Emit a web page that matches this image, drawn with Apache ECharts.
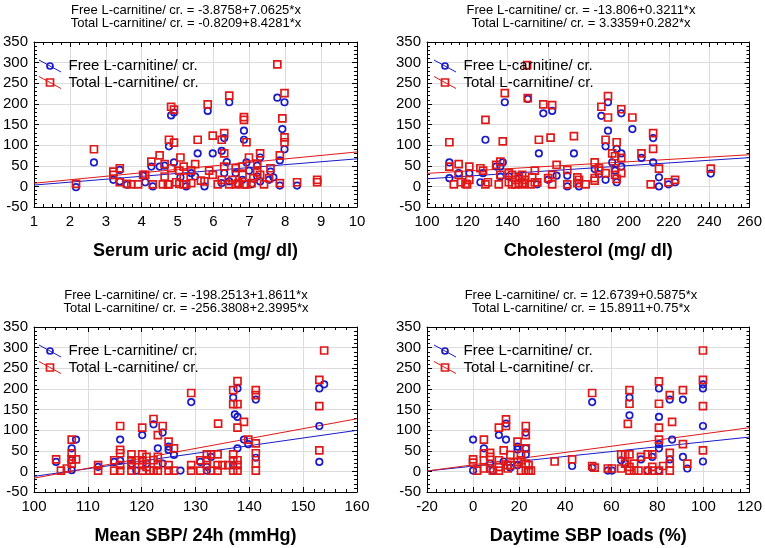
<!DOCTYPE html>
<html>
<head>
<meta charset="utf-8">
<script src="https://cdn.jsdelivr.net/npm/echarts@6/dist/echarts.min.js"></script>
<style>
html,body{margin:0;padding:0;background:#fff;}
#c{width:765px;height:548px;}
</style>
</head>
<body>
<div id="c"></div>
<script>
// ---------- DATA ----------
const xNames = ['Serum uric acid (mg/ dl)', 'Cholesterol (mg/ dl)', 'Mean SBP/ 24h (mmHg)', 'Daytime SBP loads (%)'];
const legendNames = ['Free L-carnitine/ cr.', 'Total L-carnitine/ cr.'];
const eqFree = ['Free L-carnitine/ cr. = -3.8758+7.0625*x', 'Free L-carnitine/ cr. = -13.806+0.3211*x',
                'Free L-carnitine/ cr. = -198.2513+1.8611*x', 'Free L-carnitine/ cr. = 12.6739+0.5875*x'];
const eqTotal = ['Total L-carnitine/ cr. = -0.8209+8.4281*x', 'Total L-carnitine/ cr. = 3.3359+0.282*x',
                 'Total L-carnitine/ cr. = -256.3808+2.3995*x', 'Total L-carnitine/ cr. = 15.8911+0.75*x'];
const yTicks = { min: -50, max: 350, interval: 50 };
const xTicks = [
  { min: 1, max: 10, interval: 1 },
  { min: 100, max: 260, interval: 20 },
  { min: 100, max: 160, interval: 10 },
  { min: -20, max: 120, interval: 20 }
];

// fitted lines: endpoints at the axis extents (from the printed equations)
const fitFree = [
  [[1, 3.19], [10, 66.75]],
  [[100, 18.30], [260, 69.68]],
  [[100, -12.14], [160, 99.53]],
  [[-20, 0.92], [120, 83.17]]
];
const fitTotal = [
  [[1, 7.61], [10, 83.46]],
  [[100, 31.54], [260, 76.65]],
  [[100, -16.43], [160, 127.54]],
  [[-20, 0.89], [120, 105.89]]
];

const uricFree = [[2.17,-2],[2.67,58],[3.21,16],[3.39,40],[3.39,12],[3.59,4],[4.04,26],[4.10,10],[4.27,48],[4.31,0],[4.50,48],[4.64,50],[4.76,97],[4.82,172],[4.90,179],[4.90,58],[5.08,22],[5.24,0],[5.38,32],[5.49,24],[5.56,80],[5.75,0],[5.84,183],[5.98,80],[6.23,86],[6.23,8],[6.30,117],[6.30,32],[6.37,59],[6.44,204],[6.44,12],[6.62,32],[6.69,5],[6.81,16],[6.85,135],[6.85,113],[6.92,58],[6.99,38],[7.06,5],[7.22,50],[7.22,24],[7.30,70],[7.30,12],[7.55,16],[7.59,36],[7.67,22],[7.78,215],[7.85,63],[7.85,2],[7.92,139],[7.98,204],[7.98,90],[8.33,2]];
const uricTotal = [[2.17,6],[2.67,90],[3.21,36],[3.21,28],[3.39,44],[3.39,10],[3.59,6],[3.71,5],[3.90,5],[4.04,28],[4.10,28],[4.27,60],[4.31,5],[4.50,75],[4.59,5],[4.64,54],[4.64,24],[4.73,5],[4.76,113],[4.76,5],[4.82,193],[4.82,44],[4.90,186],[4.90,106],[4.96,10],[5.05,6],[5.05,38],[5.08,70],[5.17,48],[5.17,22],[5.17,5],[5.24,5],[5.38,39],[5.38,8],[5.49,54],[5.56,113],[5.65,14],[5.75,12],[5.84,199],[5.88,38],[5.98,123],[5.98,28],[6.12,5],[6.23,113],[6.23,16],[6.30,129],[6.30,48],[6.30,80],[6.44,220],[6.44,5],[6.53,16],[6.62,44],[6.62,5],[6.69,8],[6.81,48],[6.81,28],[6.85,168],[6.85,161],[6.85,5],[6.92,107],[6.92,5],[6.99,70],[7.06,8],[7.11,20],[7.22,55],[7.22,34],[7.30,80],[7.30,28],[7.41,5],[7.55,20],[7.59,44],[7.78,296],[7.85,75],[7.85,8],[7.92,165],[7.98,226],[7.98,119],[7.98,107],[8.33,10],[8.89,16],[8.89,10]];

const cholFree = [[111.1,20],[111.1,58],[115.7,32],[121.0,32],[126.5,10],[127.8,32],[129.0,113],[134.3,48],[136.4,48],[136.4,24],[137.6,58],[138.6,204],[140.6,24],[145.6,20],[150.0,212],[154.7,5],[155.5,80],[157.7,177],[160.1,16],[162.1,183],[164.3,26],[169.6,26],[169.6,0],[172.9,80],[175.4,0],[183.2,42],[185.3,30],[186.5,171],[188.6,97],[188.6,16],[189.8,204],[189.8,135],[191.9,58],[193.3,38],[194.1,91],[194.1,10],[196.4,177],[196.4,80],[196.4,48],[201.9,139],[206.4,69],[212.2,117],[212.2,58],[215.1,22],[215.1,0],[219.8,5],[223.1,10],[240.8,31]];
const cholTotal = [[111.1,107],[111.1,48],[113.3,5],[115.7,54],[115.7,28],[116.9,10],[119.1,6],[119.9,5],[121.0,48],[121.0,16],[126.5,44],[127.8,38],[129.0,161],[129.0,5],[130.2,10],[134.3,52],[135.6,5],[136.4,60],[136.4,28],[137.6,109],[138.6,226],[140.6,32],[140.6,10],[142.2,28],[142.2,5],[143.9,16],[143.9,5],[145.6,8],[145.6,22],[147.2,5],[147.2,28],[148.5,16],[148.5,8],[149.7,294],[150.0,214],[151.4,5],[152.2,22],[153.5,38],[153.5,10],[154.7,10],[155.5,113],[157.7,199],[160.1,20],[161.3,118],[162.1,197],[162.1,28],[162.1,5],[164.3,52],[169.6,40],[169.6,5],[172.9,122],[174.6,22],[174.6,8],[175.4,16],[178.7,5],[183.2,58],[183.2,20],[183.2,14],[185.3,44],[185.3,38],[186.5,193],[188.6,113],[188.6,32],[189.8,219],[189.8,167],[191.9,80],[193.3,73],[193.3,44],[193.3,28],[194.1,107],[194.1,18],[196.4,187],[196.4,69],[196.4,32],[201.9,167],[206.4,80],[211.0,5],[212.2,129],[212.2,91],[215.1,43],[219.8,10],[223.1,16],[240.8,43]];

const sbpFree = [[104.1,23],[107.0,56],[107.0,27],[107.0,3],[107.8,77],[111.9,11],[114.9,23],[116.0,77],[116.0,26],[118.1,19],[119.0,2],[120.1,88],[120.9,19],[122.2,114],[123.0,56],[123.9,94],[123.9,19],[125.0,60],[125.0,52],[126.0,40],[127.2,2],[129.2,168],[130.9,23],[132.1,2],[132.1,11],[132.9,35],[137.0,179],[137.0,15],[137.3,138],[137.8,201],[137.8,132],[137.8,56],[139.0,77],[139.8,66],[141.2,174],[141.2,33],[153.0,201],[153.0,110],[153.0,23],[153.9,211]];
const sbpTotal = [[104.1,29],[105.0,2],[106.1,7],[107.0,77],[107.0,44],[107.0,29],[107.0,19],[107.8,29],[111.9,15],[111.9,2],[114.9,27],[114.9,2],[116.0,110],[116.0,52],[116.0,44],[116.0,15],[116.0,2],[118.1,41],[118.1,27],[118.1,15],[118.1,2],[119.0,27],[120.1,106],[120.1,41],[120.1,27],[120.1,15],[120.1,2],[120.9,35],[120.9,11],[121.5,2],[122.2,127],[122.2,27],[122.2,2],[123.0,88],[123.0,35],[123.0,15],[123.0,2],[123.9,110],[125.0,72],[125.0,15],[125.0,2],[126.0,56],[126.0,2],[129.2,190],[129.2,15],[129.2,2],[130.9,27],[130.9,2],[132.1,41],[132.1,27],[132.1,15],[132.9,41],[132.9,2],[134.1,41],[134.1,15],[134.1,2],[134.2,116],[135.0,15],[136.1,15],[137.0,197],[137.0,163],[137.0,41],[137.0,27],[137.0,2],[137.8,219],[137.8,163],[137.8,106],[137.8,27],[137.8,15],[137.8,2],[139.0,120],[139.8,77],[141.2,197],[141.2,185],[141.2,68],[141.2,44],[141.2,19],[141.2,2],[153.0,222],[153.0,158],[153.0,51],[153.9,293]];

const loadFree = [[0,77],[0,2],[4.7,56],[7.4,19],[8.6,2],[11.2,88],[13.3,24],[14.3,77],[14.3,116],[16.2,9],[19.3,15],[19.3,60],[19.3,53],[22.9,94],[22.9,56],[22.9,41],[43.0,13],[51.7,168],[51.7,9],[58.5,2],[60.3,2],[64.3,27],[66.0,19],[67.9,179],[67.9,136],[72.9,29],[75.8,2],[77.8,35],[80.7,201],[80.7,132],[80.7,66],[80.7,56],[80.7,2],[85.4,174],[85.4,29],[86.4,77],[91.1,174],[91.1,35],[93.0,7],[99.8,211],[99.8,201],[99.8,110],[99.8,24]];
const loadTotal = [[0,29],[0,21],[1.8,2],[4.7,77],[4.7,44],[4.7,27],[4.7,7],[7.4,45],[7.4,35],[7.4,7],[8.6,2],[11.2,106],[11.2,27],[11.2,11],[11.2,2],[13.3,51],[14.3,110],[14.3,126],[15.0,15],[15.0,7],[16.2,40],[16.2,15],[19.3,23],[19.3,72],[20.8,40],[20.8,27],[20.8,2],[22.9,110],[22.9,88],[22.9,56],[22.9,19],[22.9,2],[24.1,2],[24.1,15],[25.1,2],[35.4,24],[43.0,29],[51.7,190],[51.7,13],[52.8,9],[58.5,7],[60.3,7],[64.3,7],[64.3,41],[66.0,41],[66.0,19],[67.2,115],[67.9,197],[67.9,164],[67.9,41],[67.9,11],[67.9,2],[69.9,19],[69.9,2],[71.8,2],[72.9,35],[75.8,41],[75.8,2],[77.8,41],[77.8,11],[77.8,2],[80.7,218],[80.7,164],[80.7,106],[80.7,77],[80.7,2],[82.5,13],[85.4,185],[85.4,45],[85.4,19],[85.4,2],[86.4,120],[91.1,197],[91.1,66],[93.0,19],[99.8,293],[99.8,222],[99.8,158],[99.8,51]];

const freeSets = [uricFree, cholFree, sbpFree, loadFree];
const totalSets = [uricTotal, cholTotal, sbpTotal, loadTotal];

// ---------- LAYOUT / STYLE ----------
const FONT = '"Liberation Sans", Arial, Helvetica, sans-serif';
const BLUE = '#1a1ac8';
const RED = '#e01818';
const GRID_W = 325, GRID_H = 165;
const gridPos = [[32, 42], [427, 42], [32, 327], [427, 327]];
const xMinor = [4, 5, 5, 5];

const option = {
  backgroundColor: '#fff',
  animation: false,
  grid: [], xAxis: [], yAxis: [], series: [], graphic: []
};

function frameAxis(extra) {
  return Object.assign({
    type: 'value',
    axisLine: { show: true, onZero: false, lineStyle: { color: '#000', width: 1 } },
    axisTick: { show: true, inside: true, length: 5, lineStyle: { color: '#000', width: 1 } },
    minorTick: { show: true, length: 3, lineStyle: { color: '#000', width: 1 } },
    axisLabel: { show: false },
    splitLine: { show: false }
  }, extra);
}

for (let i = 0; i < 4; i++) {
  const [L, T] = gridPos[i];
  option.grid.push({ left: L, top: T, width: GRID_W, height: GRID_H, containLabel: false });
  const xt = xTicks[i];
  // bottom x
  option.xAxis.push(frameAxis({
    gridIndex: i, position: 'bottom', min: xt.min, max: xt.max, interval: xt.interval,
    minorTick: { show: true, splitNumber: xMinor[i], length: 3, lineStyle: { color: '#000' } },
    axisLabel: { show: true, color: '#000', fontSize: 15, fontFamily: FONT, margin: 7 },
    splitLine: { show: true, lineStyle: { color: '#dcdcdc', width: 1 } },
    name: xNames[i], nameLocation: 'middle', nameGap: 35,
    nameTextStyle: { color: '#000', fontSize: 18, fontWeight: 'bold', fontFamily: FONT }
  }));
  // top x (frame)
  option.xAxis.push(frameAxis({
    gridIndex: i, position: 'top', min: xt.min, max: xt.max, interval: xt.interval,
    minorTick: { show: true, splitNumber: xMinor[i], length: 3, lineStyle: { color: '#000' } }
  }));
  // left y
  option.yAxis.push(frameAxis({
    gridIndex: i, position: 'left', min: yTicks.min, max: yTicks.max, interval: yTicks.interval,
    minorTick: { show: true, splitNumber: 5, length: 3, lineStyle: { color: '#000' } },
    axisLabel: { show: true, color: '#000', fontSize: 15, fontFamily: FONT, margin: 6 },
    splitLine: { show: true, lineStyle: { color: '#dcdcdc', width: 1 } }
  }));
  // right y (frame)
  option.yAxis.push(frameAxis({
    gridIndex: i, position: 'right', min: yTicks.min, max: yTicks.max, interval: yTicks.interval,
    minorTick: { show: true, splitNumber: 5, length: 3, lineStyle: { color: '#000' } }
  }));

  const xi = i * 2, yi = i * 2;
  option.series.push({
    type: 'line', xAxisIndex: xi, yAxisIndex: yi, data: fitFree[i], symbol: 'none', silent: true,
    lineStyle: { color: BLUE, width: 1 }, z: 2
  });
  option.series.push({
    type: 'line', xAxisIndex: xi, yAxisIndex: yi, data: fitTotal[i], symbol: 'none', silent: true,
    lineStyle: { color: RED, width: 1 }, z: 2
  });
  option.series.push({
    name: legendNames[0], type: 'scatter', xAxisIndex: xi, yAxisIndex: yi, data: freeSets[i],
    symbol: 'circle', symbolSize: 6.5, z: 3,
    itemStyle: { color: 'rgba(0,0,0,0)', borderColor: BLUE, borderWidth: 1.7, opacity: 1 }
  });
  option.series.push({
    name: legendNames[1], type: 'scatter', xAxisIndex: xi, yAxisIndex: yi, data: totalSets[i],
    symbol: 'rect', symbolSize: 7, z: 4,
    itemStyle: { color: 'rgba(0,0,0,0)', borderColor: RED, borderWidth: 1.7, opacity: 1 }
  });

  // equations above the panel
  const cx = L + 154;
  option.graphic.push({ type: 'text', x: cx, y: T - 32, style: { text: eqFree[i], font: '13px ' + FONT, fill: '#000', align: 'center', verticalAlign: 'middle' } });
  option.graphic.push({ type: 'text', x: cx, y: T - 19, style: { text: eqTotal[i], font: '13px ' + FONT, fill: '#000', align: 'center', verticalAlign: 'middle' } });

  // legend (line + marker + text)
  const mx = L + 18, my1 = T + 24, my2 = T + 40.5;
  option.graphic.push({ type: 'line', shape: { x1: mx - 11, y1: my1 - 6, x2: mx + 11, y2: my1 + 6 }, style: { stroke: BLUE, lineWidth: 1 }, z: 10 });
  option.graphic.push({ type: 'circle', shape: { cx: mx, cy: my1, r: 3 }, style: { fill: 'rgba(0,0,0,0)', stroke: BLUE, lineWidth: 1.7 }, z: 11 });
  option.graphic.push({ type: 'text', x: L + 36.5, y: my1, style: { text: legendNames[0], font: '15px ' + FONT, fill: '#000', align: 'left', verticalAlign: 'middle' }, z: 11 });
  option.graphic.push({ type: 'line', shape: { x1: mx - 11, y1: my2 - 6, x2: mx + 11, y2: my2 + 6 }, style: { stroke: RED, lineWidth: 1 }, z: 10 });
  option.graphic.push({ type: 'rect', shape: { x: mx - 3.5, y: my2 - 3.5, width: 7, height: 7 }, style: { fill: 'rgba(0,0,0,0)', stroke: RED, lineWidth: 1.7 }, z: 11 });
  option.graphic.push({ type: 'text', x: L + 36.5, y: my2, style: { text: legendNames[1], font: '15px ' + FONT, fill: '#000', align: 'left', verticalAlign: 'middle' }, z: 11 });
}

const chart = echarts.init(document.getElementById('c'), null, { renderer: 'canvas' });
chart.setOption(option);
</script>
</body>
</html>
